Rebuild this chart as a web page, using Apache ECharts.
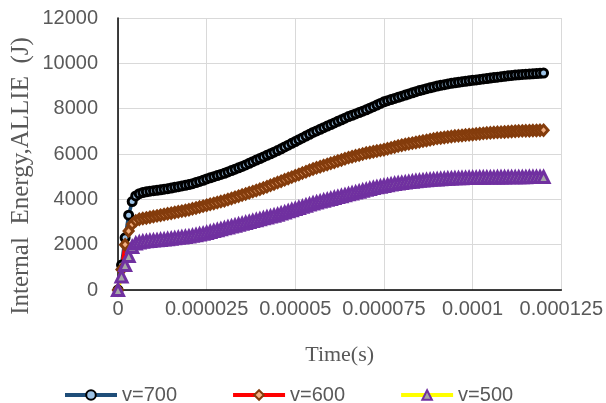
<!DOCTYPE html>
<html>
<head>
<meta charset="utf-8">
<script src="https://cdn.jsdelivr.net/npm/echarts@6/dist/echarts.min.js"></script>
<style>html,body{margin:0;padding:0;background:#fff}#c{width:606px;height:403px}</style>
</head>
<body>
<div id="c"></div>
<script>
// time step between samples (seconds)
const timeStep = 1e-6;
const seriesNames = ['v=700', 'v=600', 'v=500'];
const xTickLabels = ['0', '0.000025', '0.00005', '0.000075', '0.0001', '0.000125'];
const yTickLabels = ['0', '2000', '4000', '6000', '8000', '10000', '12000'];
const xTitle = 'Time(s)';
const yTitle = 'Internal  Energy,ALLIE  (J)';

const v700 = [0,1100,2300,3300,3900,4150,4250,4300,4330,4360,4380,4400,4420,4450,4470,4500,4530,4560,4590,4620,
4650,4690,4740,4790,4840,4900,4950,5000,5050,5100,5150,5210,5270,5330,5390,5450,5520,5590,5660,5730,
5800,5870,5940,6010,6080,6150,6230,6310,6390,6470,6550,6630,6710,6790,6870,6950,7020,7090,7160,7230,
7300,7370,7440,7510,7580,7650,7710,7770,7830,7890,7950,8020,8090,8160,8230,8300,8350,8400,8450,8500,
8550,8600,8650,8700,8750,8800,8840,8880,8920,8960,9000,9030,9060,9090,9120,9140,9165,9190,9210,9230,
9250,9270,9290,9310,9330,9350,9370,9390,9410,9430,9450,9465,9480,9495,9510,9520,9530,9540,9550,9560,9570];

const v600 = [0,900,2000,2600,2900,3050,3120,3150,3180,3210,3240,3270,3300,3330,3360,3390,3420,3450,3480,3510,
3540,3580,3620,3660,3700,3740,3780,3820,3860,3900,3940,3990,4040,4090,4140,4190,4240,4290,4340,4390,
4440,4500,4560,4620,4680,4740,4800,4860,4920,4980,5040,5100,5160,5220,5280,5340,5390,5440,5490,5540,
5590,5640,5690,5740,5790,5840,5880,5920,5960,6000,6040,6070,6100,6130,6160,6190,6230,6270,6310,6350,
6390,6420,6450,6480,6510,6540,6570,6600,6630,6660,6690,6710,6730,6750,6770,6790,6805,6820,6835,6850,
6865,6880,6895,6910,6925,6935,6945,6955,6965,6975,6985,6995,7005,7015,7020,7025,7030,7035,7040,7045,7050];

const v500 = [0,600,1100,1500,1900,2050,2100,2130,2150,2165,2180,2195,2210,2225,2240,2260,2280,2300,2320,2340,
2360,2390,2420,2450,2480,2520,2560,2600,2640,2680,2720,2760,2800,2840,2880,2920,2960,3000,3040,3080,
3120,3160,3200,3240,3280,3320,3370,3420,3470,3520,3570,3620,3670,3720,3770,3820,3860,3900,3940,3980,
4020,4060,4100,4140,4180,4220,4260,4300,4340,4380,4420,4460,4500,4530,4560,4590,4620,4650,4680,4700,
4720,4740,4760,4780,4800,4815,4830,4845,4860,4870,4880,4890,4900,4910,4920,4925,4930,4935,4940,4945,
4950,4950,4955,4955,4960,4960,4960,4965,4965,4965,4970,4970,4970,4975,4975,4975,4980,4980,4980,4985,4985];

const pairs = vals => vals.map((v, i) => [i * timeStep, v]);

const chart = echarts.init(document.getElementById('c'), null, {renderer: 'canvas'});
const gray = '#595959';
const lineColors = ['#1f4e79', '#ff0000', '#ffff00'];
const option = {
  animation: false,
  backgroundColor: '#fff',
  grid: {left: 118, right: 43, top: 18, bottom: 113},
  legend: {
    top: 380, left: 58, itemGap: 54, itemWidth: 52, itemHeight: 12,
    textStyle: {color: gray, fontSize: 20, fontFamily: 'Liberation Sans'},
    data: seriesNames.map((n, i) => ({name: n, lineStyle: {width: 4, color: lineColors[i]}}))
  },
  graphic: [{
    type: 'text', x: 21, y: 176, rotation: Math.PI / 2,
    style: {text: yTitle, fill: gray, fontSize: 25, fontFamily: 'Liberation Serif',
      textAlign: 'center', textVerticalAlign: 'middle'}
  }],
  xAxis: [{
    type: 'value', min: 0, max: 0.000125, interval: 0.000025,
    name: xTitle, nameLocation: 'middle', nameGap: 54,
    nameTextStyle: {color: gray, fontSize: 22, fontFamily: 'Liberation Serif'},
    axisLine: {show: true, lineStyle: {color: '#d9d9d9', width: 1}},
    axisTick: {show: false},
    axisLabel: {color: gray, fontSize: 20, fontFamily: 'Liberation Sans', margin: 9,
      formatter: v => xTickLabels[Math.round(v / 0.000025)]},
    splitLine: {show: true, lineStyle: {color: '#d9d9d9', width: 1}}
  }, {
    type: 'value', position: 'top', min: 0, max: 0.000125,
    axisLine: {show: true, lineStyle: {color: '#000', width: 1.5}},
    axisTick: {show: false}, axisLabel: {show: false}, splitLine: {show: false}
  }],
  yAxis: [{
    type: 'value', min: 0, max: 12000, interval: 2000,
    axisLine: {show: true, lineStyle: {color: '#d9d9d9', width: 1}},
    axisTick: {show: false},
    axisLabel: {color: gray, fontSize: 20, fontFamily: 'Liberation Sans', margin: 20,
      formatter: v => yTickLabels[Math.round(v / 2000)]},
    splitLine: {show: true, lineStyle: {color: '#d9d9d9', width: 1}}
  }, {
    type: 'value', position: 'right', min: 0, max: 12000,
    axisLine: {show: true, lineStyle: {color: '#000', width: 1.5}},
    axisTick: {show: false}, axisLabel: {show: false}, splitLine: {show: false}
  }],
  series: [
    {name: seriesNames[0], type: 'line', data: pairs(v700), symbol: 'circle', symbolSize: 8,
     lineStyle: {color: lineColors[0], width: 3.5}, itemStyle: {color: '#9dc3e6', borderColor: '#000', borderWidth: 3}},
    {name: seriesNames[1], type: 'line', data: pairs(v600), symbol: 'diamond', symbolSize: [9, 10],
     lineStyle: {color: lineColors[1], width: 3.5}, itemStyle: {color: '#f4b183', borderColor: '#843c0c', borderWidth: 3}},
    {name: seriesNames[2], type: 'line', data: pairs(v500), symbol: 'triangle', symbolSize: 11,
     lineStyle: {color: lineColors[2], width: 3.5}, itemStyle: {color: '#a6a6a6', borderColor: '#7030a0', borderWidth: 3}}
  ]
};
chart.setOption(option);
</script>
</body>
</html>
